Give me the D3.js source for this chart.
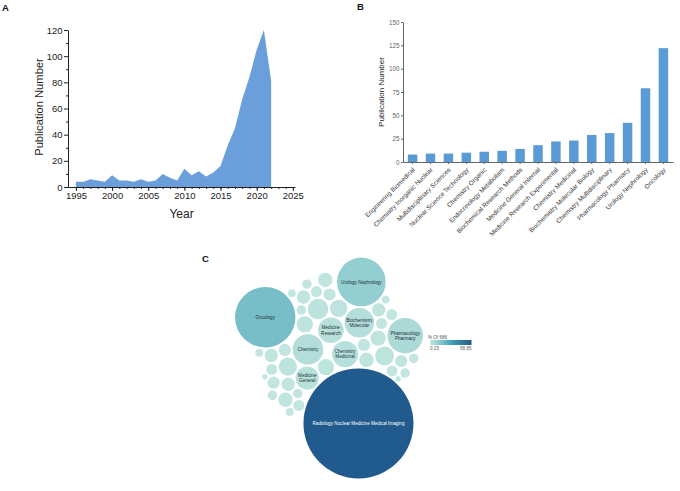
<!DOCTYPE html>
<html>
<head>
<meta charset="utf-8">
<script src="https://cdn.jsdelivr.net/npm/d3@7"></script>
<style>
  body { margin: 0; background: #fff; }
  svg { display: block; font-family: 'Liberation Sans', Arial, sans-serif; }
</style>
</head>
<body>
<svg id="chart" width="680" height="491"></svg>
<script>
/***    DATA    **/

// A: publications per year
var trendYears = [1995, 1996, 1997, 1998, 1999, 2000, 2001, 2002, 2003, 2004, 2005, 2006, 2007, 2008,
                  2009, 2010, 2011, 2012, 2013, 2014, 2015, 2016, 2017, 2018, 2019, 2020, 2021, 2022];
var trendCounts = [4, 4, 6, 5, 4, 9, 5, 5, 4, 6, 4, 5, 10, 7,
                   5, 14, 9, 12, 8, 11, 16, 32, 45, 67, 84, 105, 120, 81];
var yearTicks = [1995, 2000, 2005, 2010, 2015, 2020, 2025];
var trendTicks = [0, 20, 40, 60, 80, 100, 120];

// B: top categories (radiology left out)
var barCategories = ['Engineering Biomedical', 'Chemistry Inorganic Nuclear', 'Multidisciplinary Sciences',
  'Nuclear Science Technology', 'Chemistry Organic', 'Endocrinology Metabolism', 'Biochemical Research Methods',
  'Medicine General Internal', 'Medicine Research Experimental', 'Chemistry Medicinal',
  'Biochemistry Molecular Biology', 'Chemistry Multidisciplinary', 'Pharmacology Pharmacy',
  'Urology Nephrology', 'Oncology'];
var barCounts = [8, 9, 9, 10, 11, 12, 14, 18, 22, 23, 29, 31, 42, 79, 122];
var barTicks = [0, 25, 50, 75, 100, 125, 150];

// C: every category (packing order), records out of 686
var bubbleCategories = ['Medicine Research Experimental', 'Chemistry Medicinal', 'Chemistry Multidisciplinary',
  'Biochemistry Molecular Biology', 'Medicine General Internal', 'Biochemical Research Methods',
  'Endocrinology Metabolism', 'Chemistry Organic', 'Nuclear Science Technology', 'Chemistry Inorganic Nuclear',
  'Multidisciplinary Sciences', 'Engineering Biomedical',
  'Hematology', 'Immunology', 'Cell Biology', 'Pathology', 'Surgery', 'Physics Nuclear',
  'Materials Science Multidisciplinary', 'Nanoscience Nanotechnology', 'Genetics Heredity',
  'Chemistry Analytical', 'Chemistry Physical', 'Biophysics', 'Biotechnology Applied Microbiology',
  'Physics Particles Fields', 'Instruments Instrumentation', 'Polymer Science', 'Materials Science Biomaterials',
  'Cardiac Cardiovascular Systems', 'Neurosciences', 'Computer Science Interdisciplinary Applications',
  'Mathematical Computational Biology', 'Clinical Neurology', 'Gastroenterology Hepatology',
  'Public Environmental Occupational Health', 'Health Care Sciences Services', 'Obstetrics Gynecology',
  'Dermatology', 'Physiology', 'Andrology', 'Optics',
  'Urology Nephrology', 'Radiology Nuclear Medicine Medical Imaging', 'Oncology', 'Pharmacology Pharmacy'];
var bubbleCounts = [22, 23, 31, 29, 18, 14, 12, 11, 10, 9, 9, 8,
  7, 7, 7, 6, 6, 6, 6, 5, 5, 5, 5, 5, 4, 4, 4, 4, 4, 4, 3, 3, 3, 3, 3, 3, 2, 2, 2, 2, 1, 1,
  79, 404, 122, 42];
// text shown inside the bubbles that are big enough
var labelCategories = ['Radiology Nuclear Medicine Medical Imaging', 'Oncology', 'Urology Nephrology',
  'Pharmacology Pharmacy', 'Chemistry Multidisciplinary', 'Biochemistry Molecular Biology',
  'Chemistry Medicinal', 'Medicine Research Experimental', 'Medicine General Internal'];
var labelTexts = ['Radiology Nuclear Medicine Medical Imaging', 'Oncology', 'Urology Nephrology',
  'Pharmacology|Pharmacy', 'Chemistry', 'Biochemistry|Molecular', 'Chemistry|Medicinal',
  'Medicine|Research', 'Medicine|General'];
var totalRecords = 686;
var legendTitle = '% Of 686';
var legendTicks = ['0.15', '58.85'];

// tableau style blue-teal ramp
var blueTeal = ['#c3e6e0', '#a6d8d4', '#84c5cc', '#67b4c3', '#48a3ba', '#3890ae', '#347ea1', '#2f6b94', '#215a8c'];

var svg = d3.select('#chart');

function styleAxis(g, size, col) {
  g.attr('font-family', null).attr('font-size', size);
  g.selectAll('path, line').attr('stroke', col);
  g.selectAll('text').attr('fill', col);
}

/***    A: AREA    **/

var gA = svg.append('g');
var xA = d3.scaleLinear().domain([1993.9, 2025.3]).range([68, 295]);
var yA = d3.scaleLinear().domain([0, 120]).range([187, 30]);

var trend = trendYears.map(function(yr, i) { return {year: yr, n: trendCounts[i]}; });

gA.append('path')
    .datum(trend)
    .attr('fill', '#6a9fdc')
    .attr('d', d3.area()
      .x(function(d) { return xA(d.year); })
      .y0(yA(0))
      .y1(function(d) { return yA(d.n); }));

// minor ticks first, then the labelled ones
gA.append('g')
    .attr('transform', 'translate(0,' + yA(0) + ')')
    .call(d3.axisBottom(xA).tickValues(d3.range(1995, 2026)).tickSize(2).tickFormat(''))
    .call(function(g) { g.select('.domain').remove(); styleAxis(g, 9.5, '#222'); });
gA.append('g')
    .attr('transform', 'translate(0,' + yA(0) + ')')
    .call(d3.axisBottom(xA).tickValues(yearTicks).tickSize(4).tickSizeOuter(0).tickPadding(1.5).tickFormat(d3.format('d')))
    .call(function(g) { styleAxis(g, 9.5, '#222'); });

gA.append('g')
    .attr('transform', 'translate(' + xA.range()[0] + ',0)')
    .call(d3.axisLeft(yA).tickValues(d3.range(10, 120, 20)).tickSize(2).tickFormat(''))
    .call(function(g) { g.select('.domain').remove(); styleAxis(g, 9.5, '#222'); });
gA.append('g')
    .attr('transform', 'translate(' + xA.range()[0] + ',0)')
    .call(d3.axisLeft(yA).tickValues(trendTicks).tickSize(4).tickSizeOuter(0).tickPadding(1.5))
    .call(function(g) { styleAxis(g, 9.5, '#222'); });

gA.append('text')
    .attr('x', (xA.range()[0] + xA.range()[1]) / 2)
    .attr('y', 217.5)
    .attr('text-anchor', 'middle')
    .attr('font-size', 12)
    .attr('fill', '#222')
    .text('Year');
gA.append('text')
    .attr('transform', 'translate(42.5,107) rotate(-90)')
    .attr('text-anchor', 'middle')
    .attr('font-size', 11.2)
    .attr('fill', '#222')
    .text('Publication Number');

/***    B: BARS    **/

var gB = svg.append('g');
var xB = d3.scaleBand().domain(barCategories).range([403, 673]).paddingInner(0.47).paddingOuter(0.27);
var yB = d3.scaleLinear().domain([0, 150]).range([162, 22]);

gB.selectAll('rect')
    .data(barCategories)
    .enter().append('rect')
    .attr('x', function(d) { return xB(d); })
    .attr('width', xB.bandwidth())
    .attr('y', function(d, i) { return yB(barCounts[i]); })
    .attr('height', function(d, i) { return yB(0) - yB(barCounts[i]); })
    .attr('fill', '#5b9bd5');

gB.append('g')
    .attr('transform', 'translate(' + xB.range()[0] + ',0)')
    .call(d3.axisLeft(yB).tickValues(barTicks).tickSize(2).tickSizeOuter(0).tickPadding(1.5))
    .call(function(g) { styleAxis(g, 6.3, '#666'); });

gB.append('g')
    .attr('transform', 'translate(0,' + yB(0) + ')')
    .call(d3.axisBottom(xB).tickSize(2).tickSizeOuter(0))
    .call(function(g) {
      styleAxis(g, 6.4, '#666');
      g.selectAll('text')
          .attr('fill', '#333')
          .attr('x', -4)
          .attr('y', 5.5)
          .attr('dy', '0.35em')
          .attr('transform', 'rotate(-45)')
          .style('text-anchor', 'end');
    });

gB.append('text')
    .attr('transform', 'translate(384,' + (yB(0) + yB(150)) / 2 + ') rotate(-90)')
    .attr('text-anchor', 'middle')
    .attr('font-size', 8)
    .attr('fill', '#222')
    .text('Publication Number');

/***    C: BUBBLES    **/

var gC = svg.append('g');
var rScale = d3.scaleSqrt().domain([0, d3.max(bubbleCounts)]).range([0, 55]);
function pct(v) { return v / totalRecords * 100; }
var color = d3.scaleSequential(d3.interpolateRgbBasis(blueTeal))
    .domain(d3.extent(bubbleCounts, function(v) { return pct(v); }));

var nodes = bubbleCategories.map(function(name, i) {
  var li = labelCategories.indexOf(name);
  return {name: name, value: bubbleCounts[i], label: li < 0 ? '' : labelTexts[li], r: rScale(bubbleCounts[i])};
});
function byName(name) { return nodes.filter(function(n) { return n.name === name; })[0]; }

// seeded in array order (first ones in the middle);
// big ones pulled less so they end up round the edge
function pull(d) { return 0.5 / (Math.max(d.r, 10) + 3); }
var sim = d3.forceSimulation(nodes)
    .alphaDecay(0.01)
    .force('x', d3.forceX(0).strength(pull))
    .force('y', d3.forceY(0).strength(pull))
    .force('collide', d3.forceCollide(function(d) { return d.r + 0.9; }).iterations(4))
    .stop();
for (var t = 0; t < 900; t++) sim.tick();

// turn the cluster so radiology sits low right of oncology, like the original
var rad = byName('Radiology Nuclear Medicine Medical Imaging'), onc = byName('Oncology'), uro = byName('Urology Nephrology');
var cross = (rad.x - onc.x) * (uro.y - onc.y) - (rad.y - onc.y) * (uro.x - onc.x);
if (cross > 0) nodes.forEach(function(n) { n.y = -n.y; });
var tilt = 48.7 * Math.PI / 180;
var theta = tilt - Math.atan2(rad.y - onc.y, rad.x - onc.x);
nodes.forEach(function(n) {
  var x = n.x * Math.cos(theta) - n.y * Math.sin(theta);
  var y = n.x * Math.sin(theta) + n.y * Math.cos(theta);
  n.x = x; n.y = y;
});
var x0 = d3.min(nodes, function(n) { return n.x - n.r; }), x1 = d3.max(nodes, function(n) { return n.x + n.r; });
var y0 = d3.min(nodes, function(n) { return n.y - n.r; }), y1 = d3.max(nodes, function(n) { return n.y + n.r; });
var cx = 329 - (x0 + x1) / 2, cy = 368 - (y0 + y1) / 2;

var bub = gC.selectAll('g.bub')
    .data(nodes)
    .enter().append('g')
    .attr('class', 'bub')
    .attr('transform', function(d) { return 'translate(' + (d.x + cx) + ',' + (d.y + cy) + ')'; });

bub.append('circle')
    .attr('r', function(d) { return d.r; })
    .attr('fill', function(d) { return color(pct(d.value)); });

bub.filter(function(d) { return d.label; })
    .append('text')
    .attr('text-anchor', 'middle')
    .attr('font-size', 4.6)
    .attr('fill', function(d) { return pct(d.value) > 40 ? '#fff' : '#1e2f3a'; })
    .each(function(d) {
      var lines = d.label.split('|');
      var txt = d3.select(this);
      lines.forEach(function(l, i) {
        txt.append('tspan')
            .attr('x', 0)
            .attr('y', (i - (lines.length - 1) / 2) * 5.4 + 1.6)
            .text(l);
      });
    });

// legend
var lg = svg.append('g').attr('transform', 'translate(430,340)');
var grad = svg.append('defs').append('linearGradient').attr('id', 'ramp');
blueTeal.forEach(function(c, i) {
  grad.append('stop').attr('offset', (i / (blueTeal.length - 1) * 100) + '%').attr('stop-color', c);
});
lg.append('text').attr('x', -2).attr('y', -1.3).attr('font-size', 4.6).attr('fill', '#555').text(legendTitle);
lg.append('rect').attr('width', 41.5).attr('height', 5).attr('fill', 'url(#ramp)');
lg.append('text').attr('x', 0).attr('y', 10).attr('font-size', 4.6).attr('fill', '#555').text(legendTicks[0]);
lg.append('text').attr('x', 41.5).attr('y', 10).attr('text-anchor', 'end').attr('font-size', 4.6).attr('fill', '#555').text(legendTicks[1]);

// panel letters
[['A', 2, 10.5], ['B', 357, 9.8], ['C', 202, 261.5]].forEach(function(p) {
  svg.append('text').attr('x', p[1]).attr('y', p[2]).attr('font-size', 9.5).attr('font-weight', 'bold').attr('fill', '#111').text(p[0]);
});
</script>
</body>
</html>
